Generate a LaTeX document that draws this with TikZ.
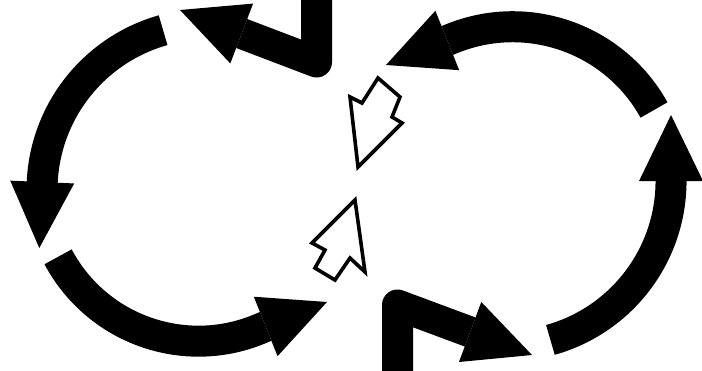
\documentclass[tikz,border=0pt]{standalone}
\usetikzlibrary{arrows.meta}
\tikzset{
  bigarrow/.style={line width=0.775cm,line join=round,-{Triangle[width=1.6cm,length=1.65cm,line width=0pt]}},
  hollowarrow/.style={line width=0.09cm,fill=white,line join=miter}
}
\begin{document}
\begin{tikzpicture}[x=0.025cm,y=0.025cm]
				\useasboundingbox (0,0) rectangle (702,370);
				\clip (0,0) rectangle (702,370);
				%% left loop
				\draw [bigarrow] (163.1,339.8) arc[start angle=105.7,end angle=177.6,radius=166] -- (39.3,122);
				\draw [bigarrow] (58.1,113.2) arc[start angle=208,end angle=293.5,radius=159] -- (327,68);
				%% right loop
				\draw [bigarrow] (654,260) arc[start angle=29,end angle=112.2,radius=161.6] -- (386,305);
				\draw [bigarrow] (550.4,30.1) arc[start angle=-74.4,end angle=0,radius=165] -- (671,255);
				%% bent arrows from the edges
				\draw [bigarrow] (316.5,385)-- (316.5,308)-- (180,360);
				\draw [bigarrow] (397.5,-15)-- (397.5,65)-- (532,15);
				%% open arrows in the middle
				\draw [hollowarrow] (358,203)-- (350,273)-- (362,267)-- (378,292)-- (400,273)-- (392,253)-- (402,247)-- cycle;
				\draw [hollowarrow] (355,170)-- (365,98)-- (350,112)-- (335,90)-- (315,102)-- (325,120)-- (312,127)-- cycle;
\end{tikzpicture}
\end{document}
